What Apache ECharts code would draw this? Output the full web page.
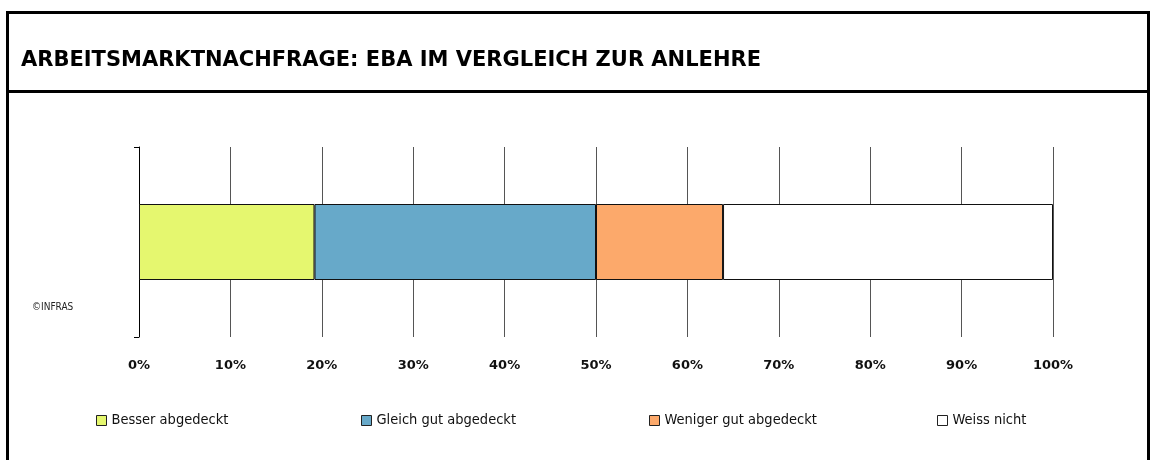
<!DOCTYPE html>
<html>
<head>
<meta charset="utf-8">
<style>
  html, body { margin: 0; padding: 0; background: #fff; }
  #chart { width: 1156px; height: 460px; }
</style>
<script src="https://cdn.jsdelivr.net/npm/echarts@6/dist/echarts.min.js"></script>
</head>
<body>
<div id="chart"></div>
<script>
// Labour-market demand: EBA compared with the Anlehre (shares, %)
const categories = ['EBA'];
const seriesNames = ['Besser abgedeckt', 'Gleich gut abgedeckt', 'Weniger gut abgedeckt', 'Weiss nicht'];
const besserValues = [19.2];
const gleichValues = [30.8];
const wenigerValues = [13.9];
const weissValues = [36.1];
const seriesColors = ['#e5f76f', '#67a9c9', '#fca96b', '#ffffff'];
const tickLabels = ['0%', '10%', '20%', '30%', '40%', '50%', '60%', '70%', '80%', '90%', '100%'];

const FONT_C = '"DejaVu Sans Condensed", "DejaVu Sans", sans-serif';
const FONT_W = '"DejaVu Sans", sans-serif';
const valueLists = [besserValues, gleichValues, wenigerValues, weissValues];
const legendLeft = [96, 361, 649, 937];

const chart = echarts.init(document.getElementById('chart'), null, { renderer: 'canvas' });

chart.setOption({
  animation: false,
  backgroundColor: '#ffffff',
  grid: { left: 139, right: 103, top: 147, bottom: 123, containLabel: false },
  xAxis: {
    type: 'value',
    min: 0,
    max: 100,
    interval: 10,
    axisLine: { show: false },
    axisTick: { show: false },
    splitLine: { show: true, lineStyle: { color: '#555555', width: 1 } },
    axisLabel: {
      margin: 22,
      fontFamily: FONT_W,
      fontWeight: 'bold',
      fontSize: 13,
      color: '#111111',
      formatter: function (v) { return tickLabels[Math.round(v / 10)]; }
    }
  },
  yAxis: {
    type: 'category',
    data: categories,
    axisLine: { show: true, lineStyle: { color: '#000000', width: 1 } },
    axisTick: { show: true, length: 5, lineStyle: { color: '#000000' } },
    axisLabel: { show: false },
    splitLine: { show: false }
  },
  legend: seriesNames.map(function (name, i) {
    return {
      data: [name],
      left: legendLeft[i],
      top: 413,
      icon: 'rect',
      itemWidth: 10,
      itemHeight: 10,
      itemGap: 0,
      padding: 0,
      selectedMode: false,
      itemStyle: { borderColor: '#222222', borderWidth: 1 },
      textStyle: { fontFamily: FONT_C, fontSize: 14.5, color: '#111111' }
    };
  }),
  series: seriesNames.map(function (name, i) {
    return {
      name: name,
      type: 'bar',
      stack: 'total',
      barWidth: 76,
      data: valueLists[i],
      itemStyle: { color: seriesColors[i], borderColor: '#111111', borderWidth: 1 },
      emphasis: { disabled: true }
    };
  }),
  graphic: [
    {
      type: 'rect',
      shape: { x: 7.5, y: 12.5, width: 1141, height: 470 },
      style: { fill: 'none', stroke: '#000000', lineWidth: 3 },
      silent: true
    },
    {
      type: 'line',
      shape: { x1: 7.5, y1: 91.5, x2: 1148.5, y2: 91.5 },
      style: { stroke: '#000000', lineWidth: 3 },
      silent: true
    },
    {
      type: 'text',
      left: 21,
      top: 50,
      style: {
        text: 'ARBEITSMARKTNACHFRAGE: EBA IM VERGLEICH ZUR ANLEHRE',
        font: 'bold 21px ' + FONT_W,
        fill: '#000000'
      },
      silent: true
    },
    {
      type: 'text',
      left: 32,
      top: 302,
      style: {
        text: '©INFRAS',
        font: '10px ' + FONT_C,
        fill: '#222222'
      },
      silent: true
    }
  ]
});
</script>
</body>
</html>
